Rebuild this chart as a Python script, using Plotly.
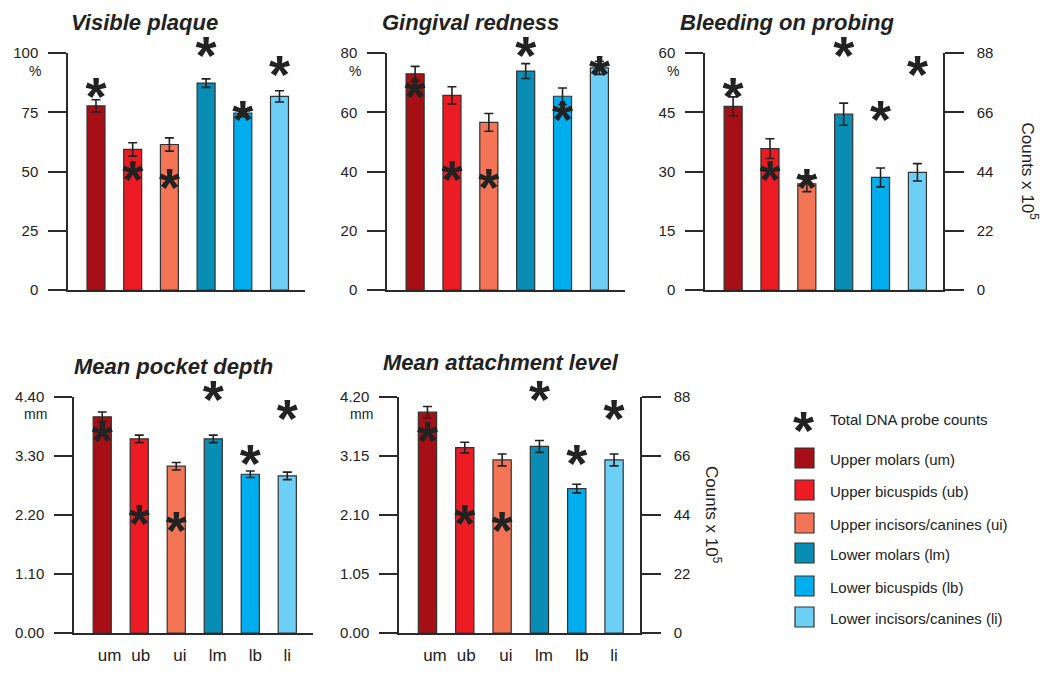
import plotly.graph_objects as go

W, H = 1050, 681

# ---------------- data ----------------
categories = ["um", "ub", "ui", "lm", "lb", "li"]
legend_labels = ["Upper molars (um)", "Upper bicuspids (ub)", "Upper incisors/canines (ui)",
                 "Lower molars (lm)", "Lower bicuspids (lb)", "Lower incisors/canines (li)"]
colors = ["#A50F15", "#ED1C24", "#F47456", "#0A8DB5", "#00AEEF", "#6DCFF6"]

dna_counts = [74.3, 43.2, 40.5, 89.3, 65.6, 82.2]  # Counts x 10^5

plaque = [77.7, 59.3, 61.4, 87.3, 74.6, 81.7]
plaque_err = [2.6, 2.8, 2.8, 1.8, 1.5, 2.4]

redness = [73.0, 65.7, 56.6, 73.9, 65.4, 75.0]
redness_err = [2.5, 2.9, 3.0, 2.5, 2.8, 2.2]

bleeding = [46.5, 35.8, 26.9, 44.5, 28.5, 29.8]
bleeding_err = [2.4, 2.5, 2.0, 2.8, 2.4, 2.2]

pocket = [4.03, 3.62, 3.11, 3.62, 2.96, 2.93]
pocket_err = [0.09, 0.07, 0.07, 0.07, 0.06, 0.07]

attach = [3.93, 3.30, 3.08, 3.32, 2.57, 3.08]
attach_err = [0.10, 0.095, 0.105, 0.105, 0.077, 0.105]

titles = ["Visible plaque", "Gingival redness", "Bleeding on probing",
          "Mean pocket depth", "Mean attachment level"]
y_ticks = [[0, 25, 50, 75, 100], [0, 20, 40, 60, 80], [0, 15, 30, 45, 60],
           [0, 1.10, 2.20, 3.30, 4.40], [0, 1.05, 2.10, 3.15, 4.20]]
units = ["%", "%", "%", "mm", "mm"]
count_ticks = [0, 22, 44, 66, 88]

# ---------------- layout helpers ----------------
OFF = 8  # page body margin of the html output


def px(x):
    return (x - OFF) / W


def py(y):
    return 1 - (y - OFF) / H


FONT = "Liberation Sans, Arial, Helvetica, sans-serif"
AX = "#2a2a2a"

# panel pixel geometry: left axis x, right end x, top y, bottom y, has right axis
panels = [
    (68, 305, 53, 290, False),
    (387, 625, 53, 290, False),
    (705, 943, 53, 290, True),
    (74, 313, 397, 633, False),
    (399, 640, 397, 633, True),
]
values = [plaque, redness, bleeding, pocket, attach]
errors = [plaque_err, redness_err, bleeding_err, pocket_err, attach_err]
title_pos = [(144, 23), (470, 22), (787, 23), (173, 366), (501, 362)]
unit_pos = [(35, 71), (355, 71), (673, 71), (35, 414), (361, 414)]
counts_label_x = {2: 1029, 4: 713}
label_x = [0.2, 1.04, 2.1, 3.12, 4.14, 5.0]
COUNT_TOP = 88
COUNT_EXT = 12  # extra headroom for star axis (counts units)

STAR_FONT = dict(family="Liberation Sans", size=54, color="#222", weight="bold")
STAR_SHIFT = 0.21 * STAR_FONT["size"]  # glyph centre sits above the text anchor

xidx = [0, 1, 2, 3, 4, 5]

fig = go.Figure()
layout = dict(
    template="none",
    width=W, height=H, margin=dict(l=0, r=0, t=0, b=0, pad=0, autoexpand=False),
    paper_bgcolor="white", plot_bgcolor="rgba(0,0,0,0)", showlegend=False,
    font=dict(family=FONT, color="#222"),
    annotations=[], shapes=[],
)

for i, (xl, xr, yt, yb, right) in enumerate(panels):
    n = i + 1
    xa = f"x{n}" if n > 1 else "x"
    ya = f"y{n}" if n > 1 else "y"
    top = y_ticks[i][-1]
    fig.add_trace(go.Bar(
        x=xidx, y=values[i], width=0.49, xaxis=xa, yaxis=ya,
        marker=dict(color=colors, line=dict(color="#333", width=1.2)),
        error_y=dict(type="data", array=errors[i], visible=True,
                     color="#222", thickness=1.6, width=4.5),
    ))
    # star axis: counts scale (same pixels per count as the 0-88 axis), with headroom
    ext_px = (yb - yt) * COUNT_EXT / COUNT_TOP
    sa_n = 6 + i
    sa = f"y{sa_n}"
    layout[f"yaxis{sa_n}"] = dict(
        domain=[py(yb + STAR_SHIFT), py(yt - ext_px + STAR_SHIFT)], anchor=xa,
        range=[0, COUNT_TOP + COUNT_EXT], visible=False, automargin=False,
    )
    fig.add_trace(go.Scatter(
        x=xidx, y=dna_counts, xaxis=xa, yaxis=sa, mode="text",
        text=["*"] * len(dna_counts), textposition="middle center",
        textfont=STAR_FONT, cliponaxis=False, hoverinfo="skip",
    ))
    bottom_row = i >= 3
    layout[f"xaxis{n if n > 1 else ''}"] = dict(
        domain=[px(xl), px(xr)], anchor=ya, range=[-0.763, 5.695],
        showline=True, linecolor=AX, linewidth=1.5, showgrid=False,
        zeroline=False, ticks="", automargin=False,
        tickvals=label_x if bottom_row else [],
        ticktext=categories if bottom_row else [],
        showticklabels=bottom_row, tickfont=dict(size=17, color="#222"),
        ticklabelstandoff=6,
    )
    layout[f"yaxis{n if n > 1 else ''}"] = dict(
        domain=[py(yb), py(yt)], anchor=xa, range=[0, top],
        showline=True, linecolor=AX, linewidth=1.5, showgrid=False,
        zeroline=False, ticks="outside", ticklen=18, tickwidth=1.5,
        tickcolor=AX, tickvals=y_ticks[i], automargin=False,
        ticktext=[format(v, ".2f") if i >= 3 else str(int(v)) for v in y_ticks[i]],
        tickfont=dict(size=15, color="#222"), ticklabelstandoff=7,
    )
    if right:
        rn = 11 + i
        layout[f"yaxis{rn}"] = dict(
            overlaying=ya, anchor=xa, side="right", range=[0, COUNT_TOP],
            showline=True, linecolor=AX, linewidth=1.5, automargin=False,
            showgrid=False, zeroline=False, ticks="outside", ticklen=19,
            tickwidth=1.5, tickcolor=AX, tickvals=count_ticks,
            tickfont=dict(size=15, color="#222"), ticklabelstandoff=10,
        )
        fig.add_trace(go.Scatter(x=[None], y=[None], xaxis=xa, yaxis=f"y{rn}",
                                 mode="markers", hoverinfo="skip"))
        cy = (yt + yb) / 2
        layout["annotations"].append(dict(
            text="Counts x 10<sup>5</sup>", x=px(counts_label_x[i]), y=py(cy),
            xref="paper", yref="paper", xanchor="center", yanchor="middle",
            textangle=90, showarrow=False, font=dict(size=17, color="#222"),
        ))
    tx, ty = title_pos[i]
    layout["annotations"].append(dict(
        text=titles[i], x=px(tx), y=py(ty), xref="paper", yref="paper",
        xanchor="center", yanchor="middle", showarrow=False,
        font=dict(size=22, color="#222", family=FONT, weight="bold", style="italic"),
    ))
    ux, uy = unit_pos[i]
    layout["annotations"].append(dict(
        text=units[i], x=px(ux), y=py(uy), xref="paper", yref="paper",
        xanchor="center", yanchor="middle", showarrow=False,
        font=dict(size=14, color="#222"),
    ))

# ---------------- legend (custom) ----------------
leg_star_x, leg_star_y = 803, 419
layout["annotations"].append(dict(
    text="*", x=px(leg_star_x), y=py(leg_star_y + STAR_SHIFT), xref="paper", yref="paper",
    xanchor="center", yanchor="middle", showarrow=False, font=STAR_FONT,
))
layout["annotations"].append(dict(
    text="Total DNA probe counts", x=px(828), y=py(419), xref="paper", yref="paper",
    xanchor="left", yanchor="middle", showarrow=False, font=dict(size=15, color="#222"),
))
leg_y = [458, 490, 523, 553, 586, 617]
for lab, col, yy in zip(legend_labels, colors, leg_y):
    layout["shapes"].append(dict(
        type="rect", xref="paper", yref="paper",
        x0=px(795), x1=px(814), y0=py(yy - 10), y1=py(yy + 10),
        fillcolor=col, line=dict(color="#333", width=1.2),
    ))
    layout["annotations"].append(dict(
        text=lab, x=px(828), y=py(yy + 1), xref="paper", yref="paper",
        xanchor="left", yanchor="middle", showarrow=False,
        font=dict(size=15, color="#222"),
    ))

fig.update_layout(**layout)
fig.write_html("out.html")
